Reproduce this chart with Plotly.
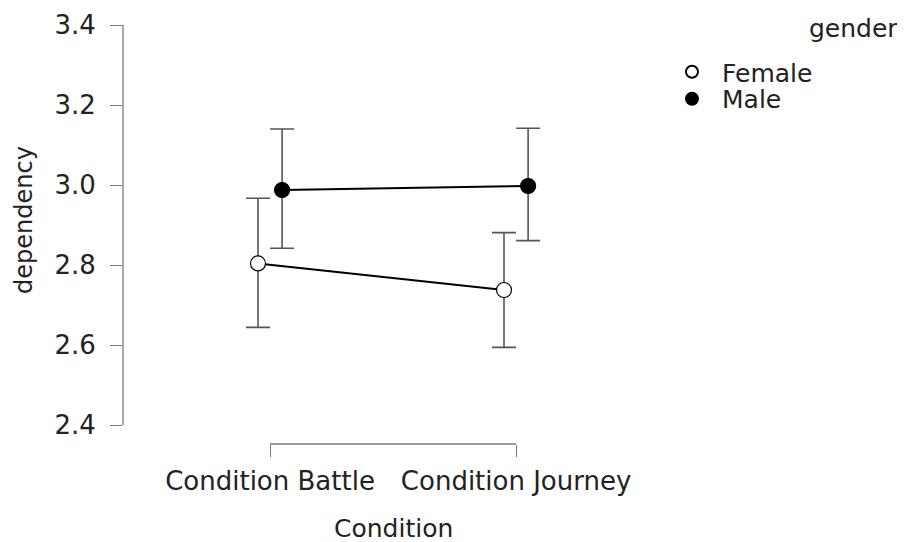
import plotly.graph_objects as go

conditions = ["Condition Battle", "Condition Journey"]
groups = ["Female", "Male"]
female_mean = [2.804, 2.7375]
female_upper = [2.967, 2.881]
female_lower = [2.644, 2.594]
male_mean = [2.9875, 2.9975]
male_upper = [3.140, 3.142]
male_lower = [2.842, 2.861]
y_ticks = [2.4, 2.6, 2.8, 3.0, 3.2, 3.4]
y_ticklabels = ["2.4", "2.6", "2.8", "3.0", "3.2", "3.4"]

FONT = "DejaVu Sans"
FS = 25
DODGE = 0.049
AXIS_COL = "#777777"
TXT = "#222222"

xpos = list(range(len(conditions)))

fig = go.Figure()

series = [
    ("Female", female_mean, female_upper, female_lower, "white", -DODGE, "legend"),
    ("Male", male_mean, male_upper, male_lower, "black", DODGE, "legend2"),
]
for name, mean, up, lo, fill, off, leg in series:
    xs = [x + off for x in xpos]
    fig.add_trace(go.Scatter(
        x=xs, y=mean, mode="lines", line=dict(color="black", width=2),
        showlegend=False, hoverinfo="skip"))
    fig.add_trace(go.Scatter(
        x=xs, y=mean, mode="markers", name=name, legend=leg,
        marker=dict(size=15, color=fill, line=dict(color="black", width=1.2)),
        error_y=dict(type="data", symmetric=False,
                     array=[u - m for u, m in zip(up, mean)],
                     arrayminus=[m - l for m, l in zip(mean, lo)],
                     color="#555555", thickness=1.6, width=12),
    ))

# axis lines (JASP-style detached axes)
fig.add_shape(type="line", xref="paper", yref="y", x0=0, x1=0,
              y0=y_ticks[0], y1=y_ticks[-1], line=dict(color=AXIS_COL, width=1.3))
fig.add_shape(type="line", xref="x", yref="paper", x0=xpos[0], x1=xpos[-1],
              y0=0, y1=0, line=dict(color=AXIS_COL, width=1.3))

legend_common = dict(xanchor="left", yanchor="middle", itemsizing="constant",
                     font=dict(size=FS, color=TXT), bgcolor="rgba(0,0,0,0)",
                     borderwidth=0, itemwidth=50)

# page body has an 8px margin, so the figure is sized 8px smaller
fig.update_layout(
    width=897, height=534,
    margin=dict(l=115, r=245, t=17, b=98, autoexpand=False),
    paper_bgcolor="white", plot_bgcolor="white",
    font=dict(family=FONT, size=FS, color=TXT),
    showlegend=True,
    legend=dict(x=1.0037, y=0.8878, **legend_common),
    legend2=dict(x=1.0037, y=0.8234, **legend_common),
    xaxis=dict(range=[-0.5976, 1.585], tickmode="array", tickvals=xpos,
               ticktext=conditions, showgrid=False, zeroline=False,
               showline=False, ticks="outside", ticklen=12, tickwidth=1.3,
               tickcolor=AXIS_COL, ticklabelstandoff=2,
               tickfont=dict(size=26, color=TXT)),
    yaxis=dict(range=[2.3525, 3.4], tickmode="array", tickvals=y_ticks,
               ticktext=y_ticklabels, showgrid=False, zeroline=False,
               showline=False, ticks="outside", ticklen=12, tickwidth=1.3,
               tickcolor=AXIS_COL, ticklabelstandoff=9,
               tickfont=dict(size=26, color=TXT)),
    annotations=[
        dict(text="dependency", xref="paper", yref="paper", x=-0.1844, y=0.5346,
             xanchor="center", yanchor="middle", textangle=-90, showarrow=False,
             font=dict(size=24, color=TXT)),
        dict(text="Condition", xref="x", yref="paper", x=0.5, y=0,
             yshift=-84, xanchor="center", yanchor="middle", showarrow=False,
             font=dict(size=FS, color=TXT)),
        dict(text="gender", xref="paper", yref="paper", x=1.0, y=1.0,
             xshift=240, yshift=-3, xanchor="right", yanchor="middle",
             showarrow=False, font=dict(size=FS, color=TXT)),
    ],
)

fig.write_html("out.html")
